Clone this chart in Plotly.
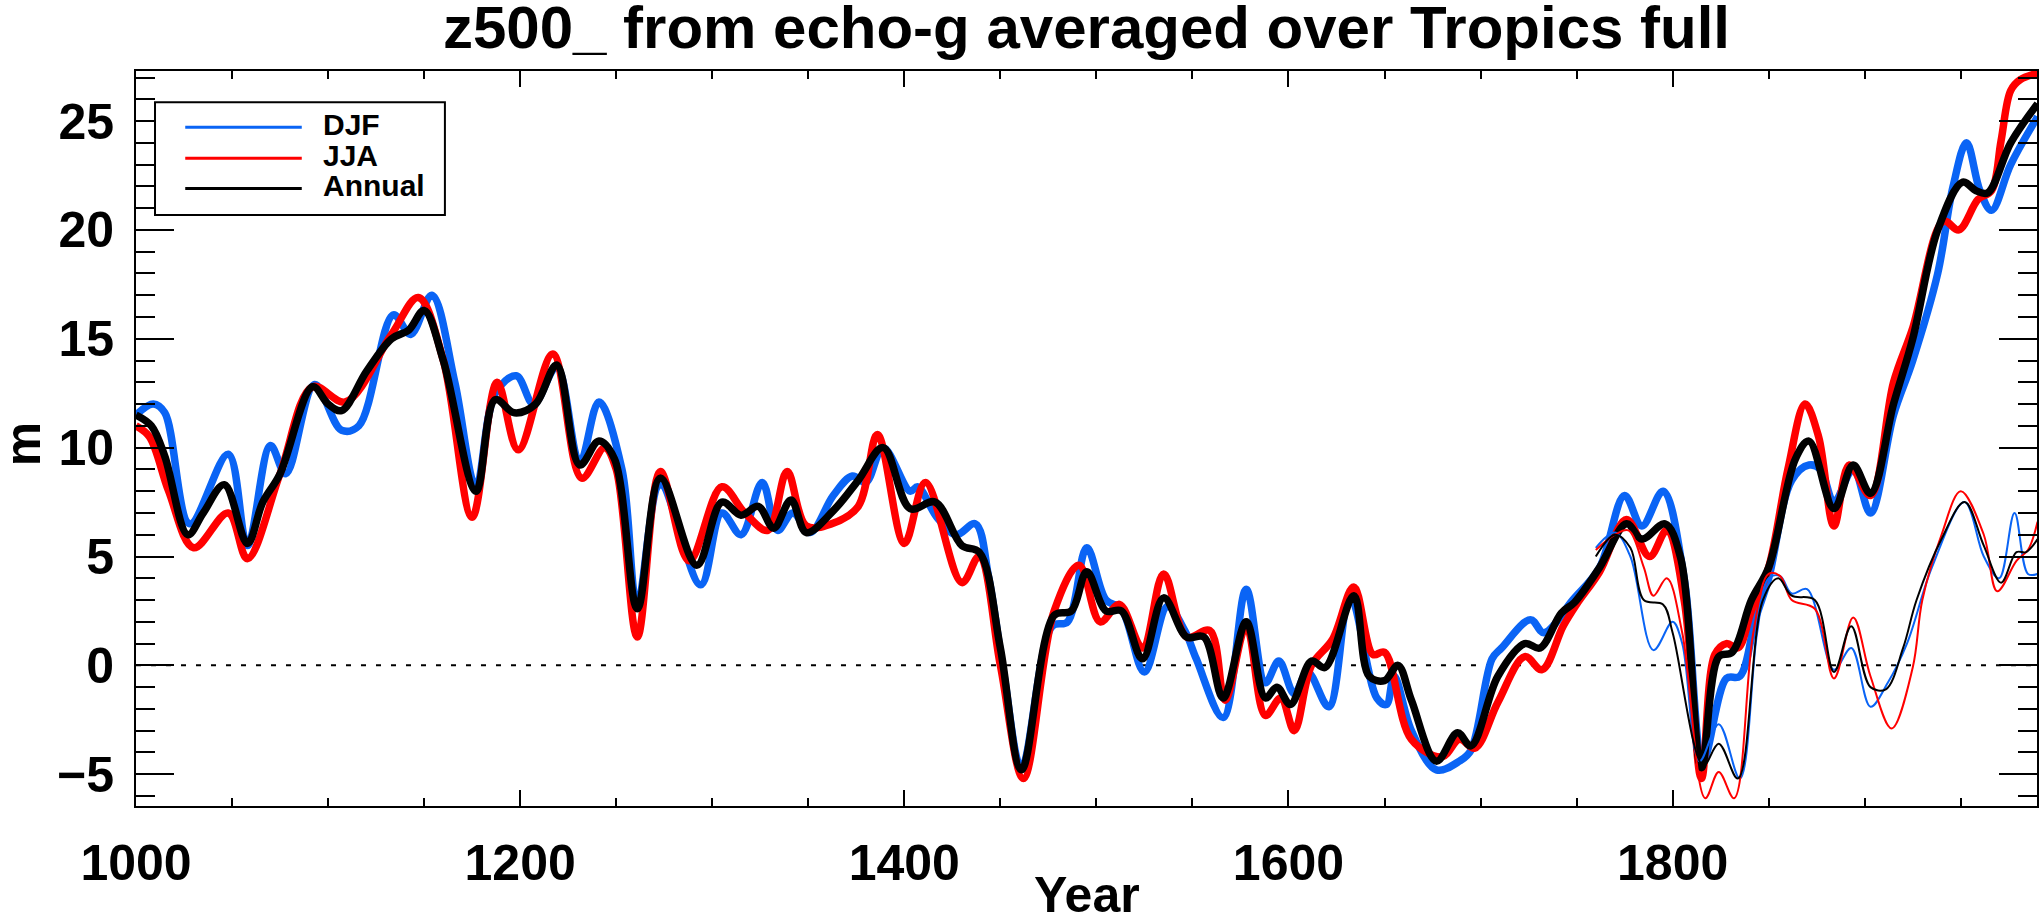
import plotly.graph_objects as go

# ---------------- data ----------------
years_djf = [1000, 1009, 1015, 1028, 1048, 1058, 1070, 1078, 1093, 1107, 1116, 1134, 1143, 1154, 1166,
             1177, 1187, 1198, 1207, 1219, 1231, 1241, 1253, 1261, 1273, 1294, 1305, 1315, 1326, 1334,
             1342, 1351, 1363, 1373, 1380, 1389, 1403, 1407, 1417, 1427, 1437, 1444, 1452, 1461, 1477,
             1485, 1495, 1505, 1513, 1525, 1537, 1546, 1552, 1566, 1578, 1588, 1595, 1603, 1610, 1621,
             1632, 1646, 1651, 1655, 1664, 1677, 1689, 1695, 1706, 1711, 1726, 1733, 1748, 1762, 1775,
             1784, 1795, 1806, 1816, 1828, 1835, 1843, 1850, 1862, 1871, 1877, 1884, 1894, 1903, 1915,
             1925, 1938, 1946, 1953, 1960, 1966, 1976, 1990]
djf = [11.5, 12.0, 11.6, 6.5, 9.7, 5.5, 10.1, 8.8, 12.9, 10.8, 11.0, 16.1, 15.2, 17.0, 13.0,
       8.2, 12.5, 13.3, 12.0, 13.7, 9.3, 12.1, 9.0, 2.8, 8.3, 3.7, 7.0, 6.0, 8.4, 6.2,
       7.0, 6.1, 7.8, 8.7, 8.4, 10.0, 8.0, 8.2, 6.8, 6.0, 6.5, 4.0, -0.5, -4.7, 1.8,
       2.0, 5.4, 3.0, 2.6, -0.3, 2.7, 1.6, 0.3, -2.4, 3.5, -0.8, 0.2, -1.3, -0.3, -1.9,
       3.2, -1.5, -1.8, -0.5, -3.0, -4.8, -4.4, -3.9, 0.3, 0.8, 2.1, 1.5, 3.0, 4.5, 7.8,
       6.4, 8.0, 4.0, -4.3, -0.6, -0.5, 2.1, 4.0, 8.5, 9.2, 9.0, 7.5, 9.0, 7.0, 11.5,
       14.0, 18.0, 22.0, 24.0, 21.8, 20.9, 23.0, 25.2]

years_jja = [1000, 1007, 1017, 1030, 1048, 1058, 1075, 1092, 1109, 1133, 1147, 1160, 1175, 1188, 1199,
             1217, 1232, 1244, 1250, 1261, 1273, 1288, 1305, 1317, 1329, 1339, 1349, 1362, 1376, 1386,
             1400, 1411, 1430, 1439, 1450, 1462, 1478, 1491, 1502, 1512, 1524, 1535, 1547, 1559, 1567,
             1578, 1588, 1596, 1603, 1612, 1623, 1634, 1644, 1650, 1664, 1680, 1689, 1697, 1709, 1723,
             1732, 1743, 1750, 1762, 1776, 1788, 1797, 1806, 1815, 1822, 1828, 1834, 1841, 1850, 1860,
             1869, 1876, 1884, 1892, 1903, 1915, 1925, 1941, 1949, 1959, 1966, 1971, 1976, 1981, 1990]
jja = [11.0, 10.5, 8.0, 5.4, 7.0, 4.9, 8.8, 12.8, 12.1, 15.2, 16.9, 14.0, 6.8, 13.0, 9.9,
       14.3, 8.6, 10.0, 9.0, 1.3, 8.9, 4.8, 8.2, 7.0, 6.2, 8.9, 6.4, 6.5, 7.3, 10.6,
       5.6, 8.4, 3.8, 5.0, 0.0, -5.2, 2.5, 4.6, 2.0, 2.8, 0.8, 4.2, 1.3, 1.6, -1.6,
       1.8, -2.3, -1.5, -3.0, 0.0, 1.2, 3.6, 0.5, 0.6, -3.4, -4.2, -3.4, -3.8, -1.7, 0.4,
       -0.2, 1.8, 2.8, 4.3, 6.7, 5.0, 6.2, 3.0, -5.2, 0.5, 1.0, 0.8, 2.5, 4.5, 9.0,
       12.0, 10.5, 6.4, 9.2, 7.8, 13.0, 15.5, 20.4, 20.0, 21.4, 21.8, 24.1, 26.4, 26.9, 27.2]

years_ann = [1000, 1008, 1015, 1027, 1035, 1046, 1058, 1066, 1075, 1092, 1100, 1107, 1120, 1133, 1142,
             1150, 1160, 1177, 1187, 1197, 1208, 1219, 1231, 1241, 1249, 1261, 1273, 1292, 1305, 1315,
             1324, 1332, 1341, 1349, 1363, 1376, 1389, 1403, 1416, 1430, 1439, 1450, 1461, 1478, 1487,
             1495, 1505, 1513, 1524, 1535, 1547, 1556, 1566, 1578, 1588, 1594, 1601, 1612, 1619, 1634,
             1642, 1650, 1657, 1664, 1677, 1688, 1695, 1709, 1723, 1731, 1742, 1749, 1762, 1776, 1784,
             1796, 1804, 1815, 1824, 1831, 1841, 1850, 1864, 1871, 1884, 1894, 1903, 1915, 1925, 1938,
             1951, 1958, 1964, 1976, 1990]
annual = [11.5, 11.0, 9.6, 6.0, 7.0, 8.3, 5.6, 7.5, 8.8, 12.8, 12.0, 11.7, 13.5, 15.0, 15.4,
          16.3, 14.0, 8.0, 12.2, 11.6, 12.0, 13.8, 9.2, 10.3, 9.5, 2.6, 8.6, 4.6, 7.5, 6.9,
          7.3, 6.3, 7.6, 6.1, 7.1, 8.5, 10.0, 7.2, 7.5, 5.5, 5.2, 0.8, -4.8, 2.3, 2.5,
          4.3, 2.5, 2.5, 0.3, 3.1, 1.3, 1.3, -1.5, 2.0, -1.5, -1.0, -1.8, 0.2, -0.1, 3.2,
          -0.5, -0.7, 0.0, -1.6, -4.4, -3.1, -3.7, -0.5, 1.0, 0.8, 2.4, 2.9, 4.5, 6.5, 5.8,
          6.5, 5.0, -4.7, 0.4, 0.6, 3.0, 4.5, 9.5, 10.3, 7.2, 9.2, 7.9, 12.0, 15.0, 20.0,
          22.2, 21.8, 21.7, 24.0, 25.8]

# thin (second) set of curves, starting ~1760
years_djf_thin = [1760, 1770, 1778, 1790, 1800, 1805, 1814, 1824, 1835, 1844, 1850, 1856, 1862, 1870,
                  1884, 1893, 1903, 1912, 1922, 1935, 1952, 1962, 1970, 1978, 1985, 1990]
djf_thin = [5.4, 6.1, 5.0, 0.7, 2.0, 1.0, -4.4, -2.7, -5.2, 1.5, 4.0, 4.1, 3.3, 3.5,
            -0.2, 0.8, -1.9, -0.8, 1.0, 4.5, 7.5, 5.0, 4.0, 7.0, 4.2, 4.2]

years_jja_thin = [1760, 1770, 1777, 1785, 1790, 1797, 1805, 1817, 1824, 1832, 1842, 1850, 1856, 1862,
                  1874, 1884, 1894, 1903, 1914, 1925, 1930, 1940, 1950, 1962, 1969, 1979, 1985, 1990]
jja_thin = [5.3, 6.0, 6.2, 4.5, 3.2, 4.0, 1.5, -6.1, -4.9, -6.1, 1.5, 4.2, 4.1, 3.0,
            2.6, -0.6, 2.2, -0.5, -2.9, -0.1, 3.0, 6.0, 8.0, 6.0, 3.4, 4.8, 5.3, 6.6]

years_ann_thin = [1760, 1770, 1778, 1785, 1795, 1800, 1816, 1824, 1834, 1847, 1855, 1862, 1874, 1884,
                  1893, 1903, 1911, 1920, 1927, 1940, 1952, 1962, 1971, 1979, 1984, 1990]
annual_thin = [5.0, 6.0, 5.4, 3.0, 2.8, 1.5, -4.6, -3.6, -5.2, 3.0, 4.0, 3.2, 3.0, -0.3,
               1.8, -1.0, -1.1, 0.8, 3.0, 5.8, 7.5, 5.5, 3.8, 5.2, 5.2, 5.8]

series_names = ["DJF", "JJA", "Annual"]
series_colors = ["#0A64F5", "#FF0000", "#000000"]

title_text = "z500_ from echo-g averaged over Tropics full"
x_title = "Year"
y_title = "m"
x_range = [1000, 1989.7]
y_range = [-6.46, 27.3]

FONT = "Liberation Sans, Arial, Helvetica, sans-serif"

fig = go.Figure()

thick = [(years_djf, djf), (years_jja, jja), (years_ann, annual)]
thin = [(years_djf_thin, djf_thin), (years_jja_thin, jja_thin), (years_ann_thin, annual_thin)]

for (xs, ys), name, col in zip(thick, series_names, series_colors):
    fig.add_trace(go.Scatter(x=xs, y=ys, mode="lines", name=name,
                             line=dict(color=col, width=7.5, shape="spline", smoothing=1.0),
                             showlegend=False, hoverinfo="skip"))
for (xs, ys), name, col in zip(thin, series_names, series_colors):
    fig.add_trace(go.Scatter(x=xs, y=ys, mode="lines", name=name + " (2)",
                             line=dict(color=col, width=2, shape="spline", smoothing=1.0),
                             showlegend=False, hoverinfo="skip"))

# zero dotted line
fig.add_shape(type="line", xref="paper", yref="y", x0=0, x1=1, y0=0, y1=0,
              line=dict(color="black", width=2, dash="5px,10px"), layer="below")

# custom legend box (paper coordinates)
fig.add_shape(type="rect", xref="paper", yref="paper", x0=0.0100, x1=0.1625, y0=0.8040, y1=0.9574,
              line=dict(color="black", width=2), fillcolor="white", layer="above")
leg_y = [0.9234, 0.8812, 0.8403]
for name, col, yy in zip(series_names, series_colors, leg_y):
    fig.add_shape(type="line", xref="paper", yref="paper", x0=0.0259, x1=0.0872, y0=yy, y1=yy,
                  line=dict(color=col, width=3), layer="above")
    fig.add_annotation(xref="paper", yref="paper", x=0.0977, y=yy + 0.004, xanchor="left",
                       yanchor="middle", text=name, showarrow=False, borderpad=0,
                       font=dict(family=FONT, size=30, color="black", weight="bold"))

# axis titles as annotations
fig.add_annotation(xref="paper", yref="paper", x=0.5, y=-0.082, xanchor="center", yanchor="top",
                   text=x_title, showarrow=False, borderpad=0,
                   font=dict(family=FONT, size=50, color="black", weight="bold"))
fig.add_annotation(xref="paper", yref="paper", x=-0.0595, y=0.492, xanchor="center", yanchor="middle",
                   text=y_title, showarrow=False, textangle=-90, borderpad=0,
                   font=dict(family=FONT, size=50, color="black", weight="bold"))

fig.update_layout(
    width=2042, height=923,
    margin=dict(l=136, r=3, t=71, b=117),
    paper_bgcolor="white", plot_bgcolor="white",
    title=dict(text=title_text, x=0.5, xref="paper", xanchor="center",
               y=0.993, yref="container", yanchor="top",
               font=dict(family=FONT, size=60, color="black", weight="bold")),
    showlegend=False,
)

fig.update_xaxes(range=x_range, showgrid=False, zeroline=False,
                 showline=True, linecolor="black", linewidth=2, mirror="allticks",
                 ticks="inside", ticklen=16, tickwidth=2, tickcolor="black",
                 tick0=1000, dtick=200, ticklabelstandoff=12,
                 tickfont=dict(family=FONT, size=50, color="black", weight="bold"),
                 minor=dict(ticks="inside", ticklen=8, tickwidth=2, tickcolor="black", dtick=50, tick0=1000))
fig.update_yaxes(range=y_range, showgrid=False, zeroline=False,
                 showline=True, linecolor="black", linewidth=2, mirror="allticks",
                 ticks="inside", ticklen=38, tickwidth=2, tickcolor="black",
                 tick0=0, dtick=5, ticklabelstandoff=10,
                 tickfont=dict(family=FONT, size=50, color="black", weight="bold"),
                 minor=dict(ticks="inside", ticklen=19, tickwidth=2, tickcolor="black", dtick=1, tick0=0))

fig.write_html("out.html", config={"displayModeBar": False},
               post_script="document.body.style.margin='0';document.body.style.overflow='hidden';")
